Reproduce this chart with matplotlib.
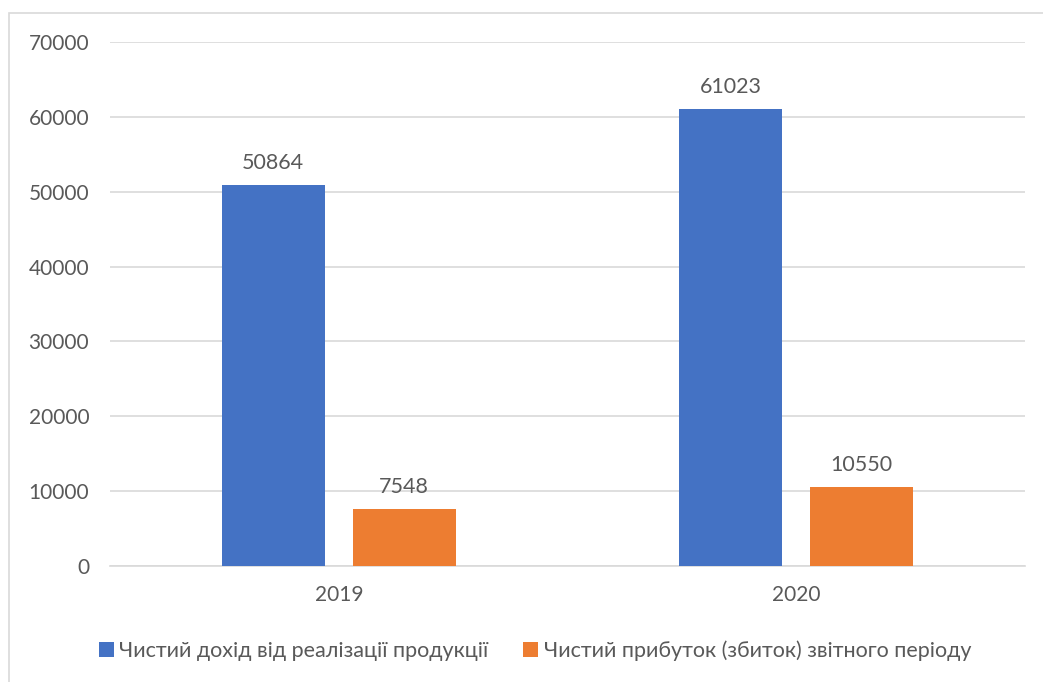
"""Net revenue vs net profit bar chart, 2019-2020."""

import matplotlib.pyplot as plt
import numpy as np
from matplotlib.patches import Rectangle

plt.rcParams["font.family"] = ["Lato", "DejaVu Sans"]

years = ["2019", "2020"]
revenue = [50864, 61023]
profit = [7548, 10550]
series_names = [
    "Чистий дохід від реалізації продукції",
    "Чистий прибуток (збиток) звітного періоду",
]

BLUE = "#4472C4"
ORANGE = "#ED7D31"
TEXT = "#595959"
GRID = "#D9D9D9"

fig = plt.figure(figsize=(10.43, 6.82), dpi=100)
fig.patch.set_facecolor("white")

# outer chart frame
fig.add_artist(Rectangle((9 / 1043, -0.05), 1.2, 1 - 13 / 682 + 0.05,
                         transform=fig.transFigure, fill=False,
                         edgecolor=GRID, linewidth=1.2))

ax = fig.add_axes([110 / 1043, 1 - 566 / 682, 915 / 1043, 524 / 682])

x = np.arange(len(years))
width = 0.225
offset = 0.143

bars_rev = ax.bar(x - offset, revenue, width, color=BLUE, label=series_names[0], zorder=3)
bars_prof = ax.bar(x + offset, profit, width, color=ORANGE, label=series_names[1], zorder=3)

for bars in (bars_rev, bars_prof):
    for bar in bars:
        h = bar.get_height()
        ax.annotate(f"{h:.0f}", (bar.get_x() + bar.get_width() / 2, h),
                    textcoords="offset points", xytext=(0, 9),
                    ha="center", va="bottom", fontsize=15.5, color=TEXT)

ax.set_xlim(-0.5, 1.5)
ax.set_ylim(0, 70000)
ax.set_yticks(range(0, 70001, 10000))
ax.set_xticks(x)
ax.set_xticklabels(years)

ax.yaxis.grid(True, color=GRID, linewidth=1.2, zorder=0)
ax.set_axisbelow(True)
for side in ("top", "right", "left"):
    ax.spines[side].set_visible(False)
ax.spines["bottom"].set_color(GRID)
ax.spines["bottom"].set_linewidth(1.2)

ax.tick_params(axis="both", length=0, labelsize=15, colors=TEXT)
ax.tick_params(axis="y", pad=15)
ax.tick_params(axis="x", pad=14)

fig.legend(loc="center", bbox_to_anchor=(535 / 1043, 1 - 651 / 682), ncol=2,
           frameon=False, fontsize=15.5, labelcolor=TEXT,
           handlelength=0.7, handleheight=0.7, handletextpad=0.25,
           columnspacing=1.6)

fig.savefig("out.png", dpi=100, facecolor="white")
